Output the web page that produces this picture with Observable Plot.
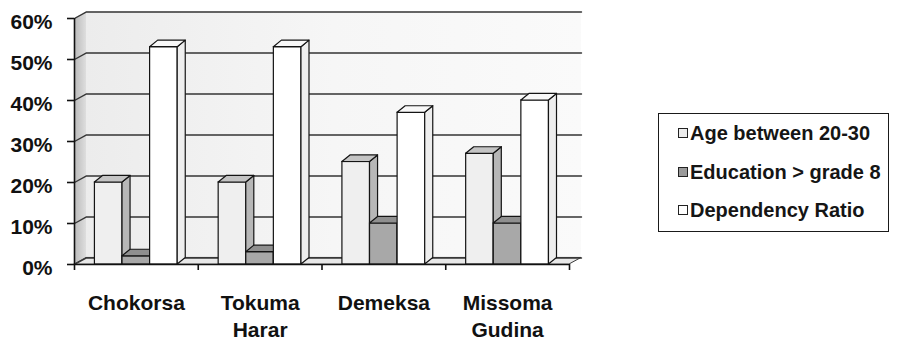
<!DOCTYPE html>
<html>
<head>
<meta charset="utf-8">
<script src="https://cdn.jsdelivr.net/npm/d3@7"></script>
<script src="https://cdn.jsdelivr.net/npm/@observablehq/plot@0.6"></script>
<style>
  body { margin: 0; background: #fff; }
  #chart { position: relative; width: 905px; height: 344px; font-family: "Liberation Sans", Arial, sans-serif; }
  #legend { position: absolute; left: 658px; top: 113px; width: 231px; height: 119px; border: 1.5px solid #1a1a1a; box-sizing: border-box; background: #fff; }
  .item { position: absolute; left: 19px; height: 22px; display: flex; align-items: center; white-space: nowrap;
          font-weight: bold; font-size: 20px; color: #151515; line-height: 1; }
  .swatch { width: 8px; height: 8px; border: 1.4px solid #222; margin-right: 2px; flex: none; }
</style>
</head>
<body>
<div id="chart"></div>
<script>
// Villages (x categories) and the three indicators, in percent
const categories = ["Chokorsa", "Tokuma Harar", "Demeksa", "Missoma Gudina"];
const seriesNames = ["Age between 20-30", "Education > grade 8", "Dependency Ratio"];
const ageBetween20to30 = [20, 20, 25, 27];
const educationAboveGrade8 = [2, 3, 10, 10];
const dependencyRatio = [53, 53, 37, 40];
const yTicks = [0, 10, 20, 30, 40, 50, 60];

const seriesValues = [ageBetween20to30, educationAboveGrade8, dependencyRatio];

// Face shading per indicator: front, side, top
const faceColors = [
  { front: "#efefef", side: "#b7b7b7", top: "#c4c4c4", swatch: "#ececec" },
  { front: "#a8a8a8", side: "#8b8b8b", top: "#8f8f8f", swatch: "#9a9a9a" },
  { front: "#ffffff", side: "#eeeeee", top: "#f8f8f8", swatch: "#ffffff" }
];

// Layout in data units: each village spans one unit on x
const nCat = categories.length;
const yMax = yTicks[yTicks.length - 1];
const groupPad = 0.165;      // gap before the first bar of a village
const barW = 0.223;          // width of one bar
const wallDX = 0.097;        // depth of floor and walls along x
const barDX = 0.065;         // depth of a bar along x
const depthY = 1.6;          // depth shift along y (percent)

const outline = "#141414";
const marks = [];

// Back wall, side wall and floor
marks.push(Plot.rect([{}], {
  x1: () => wallDX, x2: () => nCat + wallDX, y1: () => depthY, y2: () => yMax + depthY,
  fill: "url(#backWall)"
}));
marks.push(Plot.areaY([
  { x: 0, y1: 0, y2: yMax },
  { x: wallDX, y1: depthY, y2: yMax + depthY }
], { x: "x", y1: "y1", y2: "y2", fill: "url(#sideWall)" }));
marks.push(Plot.areaX([
  { y: 0, x1: 0, x2: nCat },
  { y: depthY, x1: wallDX, x2: nCat + wallDX }
], { y: "y", x1: "x1", x2: "x2", fill: "#e8e8e8", stroke: "#3a3a3a", strokeWidth: 1 }));

// Gridlines running across the side wall and the back wall
const grid = yTicks.flatMap(k => [
  { k, x: 0, y: k },
  { k, x: wallDX, y: k + depthY },
  { k, x: nCat + wallDX, y: k + depthY }
]);
marks.push(Plot.line(grid, { x: "x", y: "y", z: "k", stroke: "#353535", strokeWidth: 1.4 }));

// 3-D columns, drawn series by series so that each bar covers its left neighbour's side
seriesValues.forEach((values, j) => {
  const c = faceColors[j];
  const bars = values.map((v, i) => ({
    id: `${j}-${i}`, v,
    x1: i + groupPad + j * barW,
    x2: i + groupPad + (j + 1) * barW
  }));
  marks.push(Plot.rect(bars, {
    x1: "x1", x2: "x2", y1: 0, y2: "v",
    fill: c.front, stroke: outline, strokeWidth: 1.2
  }));
  const sides = bars.flatMap(b => [
    { id: b.id, x: b.x2, y1: 0, y2: b.v },
    { id: b.id, x: b.x2 + barDX, y1: depthY, y2: b.v + depthY }
  ]);
  marks.push(Plot.areaY(sides, {
    x: "x", y1: "y1", y2: "y2", z: "id",
    fill: c.side, stroke: outline, strokeWidth: 1.2, strokeLinejoin: "round"
  }));
  const tops = bars.flatMap(b => [
    { id: b.id, y: b.v, x1: b.x1, x2: b.x2 },
    { id: b.id, y: b.v + depthY, x1: b.x1 + barDX, x2: b.x2 + barDX }
  ]);
  marks.push(Plot.areaX(tops, {
    y: "y", x1: "x1", x2: "x2", z: "id",
    fill: c.top, stroke: outline, strokeWidth: 1.2, strokeLinejoin: "round"
  }));
});

// Axes
marks.push(Plot.ruleX([0], { y1: 0, y2: yMax, stroke: "#111", strokeWidth: 1.6 }));
marks.push(Plot.ruleY([0], { x1: 0, x2: nCat, stroke: "#111", strokeWidth: 1.6 }));
marks.push(Plot.axisY({ ticks: yTicks, tickSize: 7, tickFormat: () => "", strokeWidth: 1.6, label: null }));
marks.push(Plot.axisY({ ticks: yTicks, tickSize: 0, tickPadding: 22, dy: 4, tickFormat: d => d + "%", label: null }));
marks.push(Plot.axisX({ ticks: d3.range(nCat + 1), tickSize: 6, tickFormat: () => "", strokeWidth: 1.6, label: null }));
marks.push(Plot.axisX({
  ticks: categories.map((c, i) => i + 0.5), tickSize: 0, tickPadding: 27, lineHeight: 1.27,
  tickFormat: d => categories[Math.floor(d)].replace(" ", "\n"), label: null
}));

const chart = Plot.plot({
  width: 905,
  height: 344,
  marginLeft: 74,
  marginRight: 336,
  marginTop: 18,
  marginBottom: 80,
  x: { domain: [0, nCat], label: null },
  y: { domain: [0, yMax], label: null },
  style: {
    fontFamily: "'Liberation Sans', Arial, sans-serif",
    fontSize: "21px",
    fontWeight: "bold",
    color: "#111",
    background: "transparent",
    overflow: "visible"
  },
  marks
});

// Shading gradients for the walls
d3.select(chart).insert("defs", ":first-child").html(`
  <linearGradient id="sideWall" x1="0" x2="1" y1="0" y2="0">
    <stop offset="0" stop-color="#b9b9b9"/>
    <stop offset="1" stop-color="#dedede"/>
  </linearGradient>
  <linearGradient id="backWall" x1="0" x2="1" y1="0" y2="0">
    <stop offset="0" stop-color="#ececec"/>
    <stop offset="0.5" stop-color="#f6f6f6"/>
    <stop offset="1" stop-color="#fafafa"/>
  </linearGradient>`);

const root = document.getElementById("chart");
root.appendChild(chart);

// Legend box
const legend = document.createElement("div");
legend.id = "legend";
const rowCenters = [19, 57.5, 96];
seriesNames.forEach((name, j) => {
  const item = document.createElement("div");
  item.className = "item";
  item.style.top = (rowCenters[j] - 11) + "px";
  const sw = document.createElement("span");
  sw.className = "swatch";
  sw.style.background = faceColors[j].swatch;
  const label = document.createElement("span");
  label.textContent = name;
  item.append(sw, label);
  legend.appendChild(item);
});
root.appendChild(legend);
</script>
</body>
</html>
